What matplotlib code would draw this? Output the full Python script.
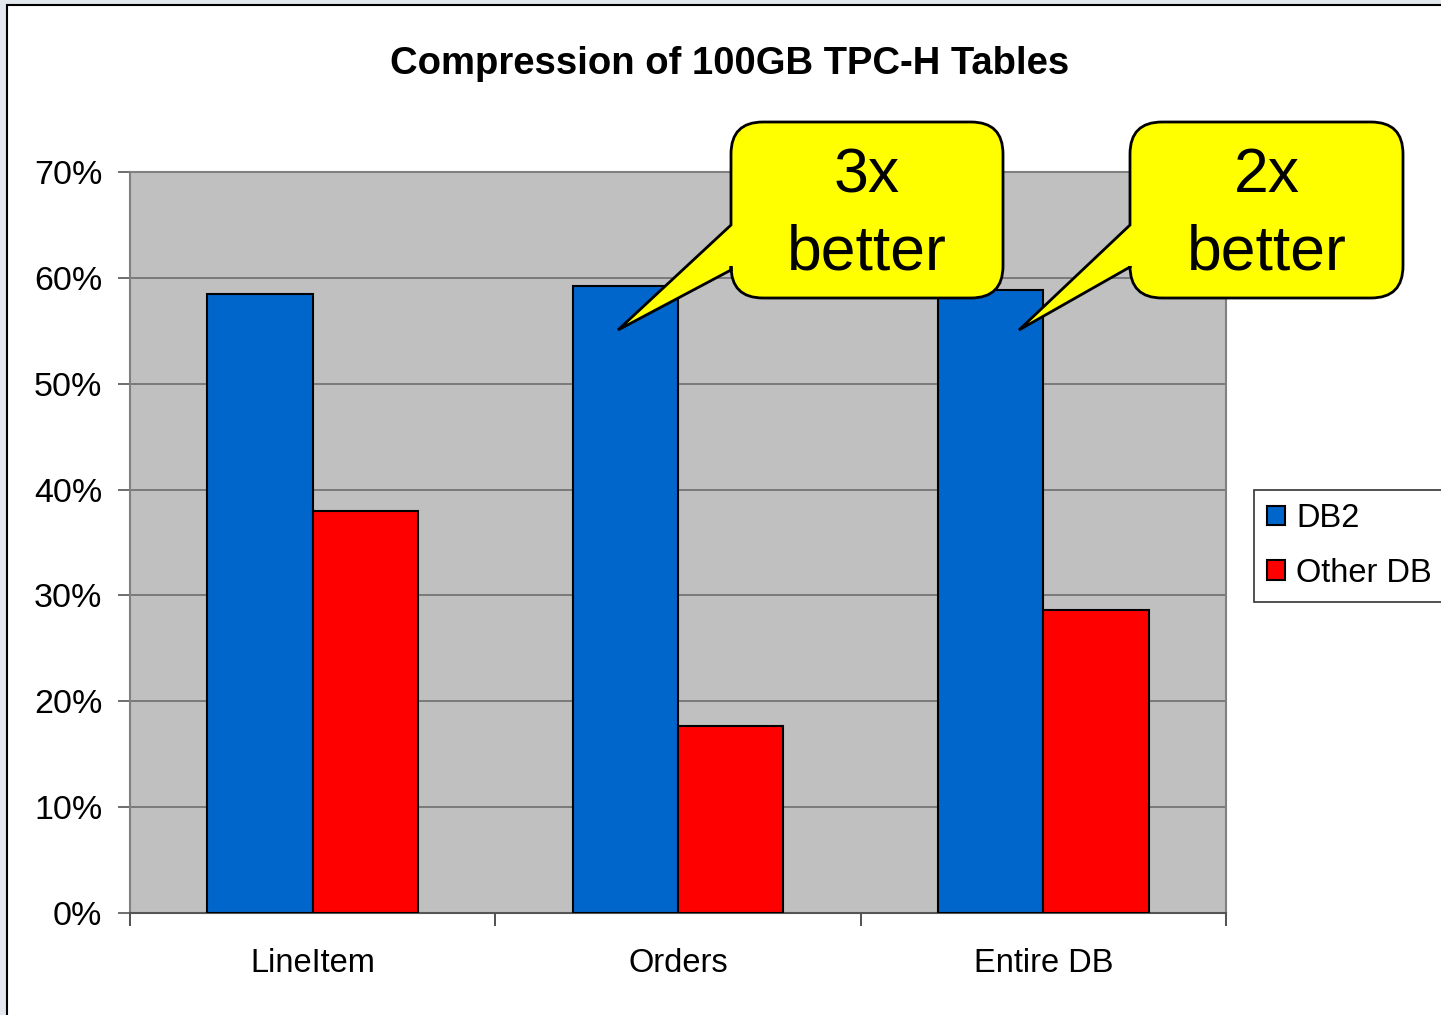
import matplotlib
matplotlib.use("Agg")
import matplotlib.pyplot as plt
import numpy as np
from matplotlib.patches import Rectangle, PathPatch
from matplotlib.path import Path
from matplotlib.ticker import MultipleLocator, PercentFormatter
import matplotlib.transforms as mtransforms

plt.rcParams['font.family'] = ['Liberation Sans', 'DejaVu Sans']

# data (compression ratio, fraction)
tables = ["LineItem", "Orders", "Entire DB"]
db2 = [0.585, 0.592, 0.589]
other_db = [0.380, 0.177, 0.286]
series_names = ["DB2", "Other DB"]
callout_text = ["3x\nbetter", "2x\nbetter"]

W, H = 1441, 1015
fig = plt.figure(figsize=(W / 100, H / 100), dpi=100, facecolor="#e3e7ee")
# pixel (image coords, y down) -> figure
px = mtransforms.Affine2D().scale(1 / W, -1 / H).translate(0, 1) + fig.transFigure

# white slide frame
fig.patches.append(Rectangle((7, 5), W, H, transform=px, facecolor="white",
                             edgecolor="black", lw=1.5, zorder=-10))

ax = fig.add_axes([130 / W, (H - 913) / H, (1226 - 130) / W, (913 - 172) / H])
ax.set_zorder(1)
ax.set_facecolor("#c0c0c0")

x = np.arange(len(tables))
w = 0.288
b1 = ax.bar(x - w / 2, db2, w, color="#0066cc", edgecolor="black", lw=1.5,
            label=series_names[0], zorder=3)
b2 = ax.bar(x + w / 2, other_db, w, color="#ff0000", edgecolor="black", lw=1.5,
            label=series_names[1], zorder=3)

ax.set_xlim(-0.5, len(tables) - 0.5)
ax.set_ylim(0, 0.7)
ax.yaxis.set_major_locator(MultipleLocator(0.1))
ax.yaxis.set_major_formatter(PercentFormatter(1.0, decimals=0))
ax.grid(axis="y", color="#6e6e6e", lw=1.2, zorder=1)

# x ticks at category borders, labels centered
ax.set_xticks(np.arange(len(tables) + 1) - 0.5)
ax.set_xticklabels([])
ax.set_xticks(x, minor=True)
ax.set_xticklabels(tables, minor=True)
ax.tick_params(axis="x", which="minor", length=0, pad=25, labelsize=23.5)
ax.tick_params(axis="x", which="major", length=9, width=1.2, color="#333333")
ax.tick_params(axis="y", length=9, width=1.2, color="#555555", pad=11,
               labelsize=24.5)

for s in ["left", "right", "top"]:
    ax.spines[s].set_color("#808080")
    ax.spines[s].set_linewidth(1.5)
ax.spines["bottom"].set_color("#555555")
ax.spines["bottom"].set_linewidth(1.5)

fig.text(730 / W, 1 - 64 / H, "Compression of 100GB TPC-H Tables",
         ha="center", va="center", fontsize=27.5, fontweight="bold")

leg = fig.legend(handles=[b1, b2], loc="upper left",
                 bbox_to_anchor=(1254 / W, 1 - 490 / H), fontsize=23.5,
                 frameon=True, fancybox=False, shadow=False, borderpad=0.4,
                 handlelength=0.55, handleheight=0.55, handletextpad=0.35,
                 labelspacing=0.72, borderaxespad=0)
leg.set_zorder(20)
leg.get_frame().set_edgecolor("black")
leg.get_frame().set_linewidth(1.2)


def callout(L, R, T, B, ya, yb, tip, r=32):
    verts = [(L + r, T), (R - r, T), (R, T), (R, T + r), (R, B - r), (R, B),
             (R - r, B), (L + r, B), (L, B), (L, B - r), (L, yb), tip,
             (L, ya), (L, T + r), (L, T), (L + r, T), (L + r, T)]
    codes = [Path.MOVETO, Path.LINETO, Path.CURVE3, Path.CURVE3, Path.LINETO,
             Path.CURVE3, Path.CURVE3, Path.LINETO, Path.CURVE3, Path.CURVE3,
             Path.LINETO, Path.LINETO, Path.LINETO, Path.LINETO, Path.CURVE3,
             Path.CURVE3, Path.CLOSEPOLY]
    fig.patches.append(PathPatch(Path(verts, codes), transform=px,
                                 facecolor="#ffff00", edgecolor="black",
                                 lw=2, zorder=10))


callout(731, 1003, 122, 298, 225, 270, (618, 330))
callout(1130, 1403, 122, 298, 225, 267, (1019, 330))

for cx, txt in zip([867, 1267], callout_text):
    top, bottom = txt.split("\n")
    fig.text(cx / W, 1 - 176 / H, top, ha="center", va="center",
             fontsize=45, zorder=11)
    fig.text(cx / W, 1 - 253 / H, bottom, ha="center", va="center",
             fontsize=45, zorder=11)

fig.savefig("out.png", dpi=100, facecolor=fig.get_facecolor())
